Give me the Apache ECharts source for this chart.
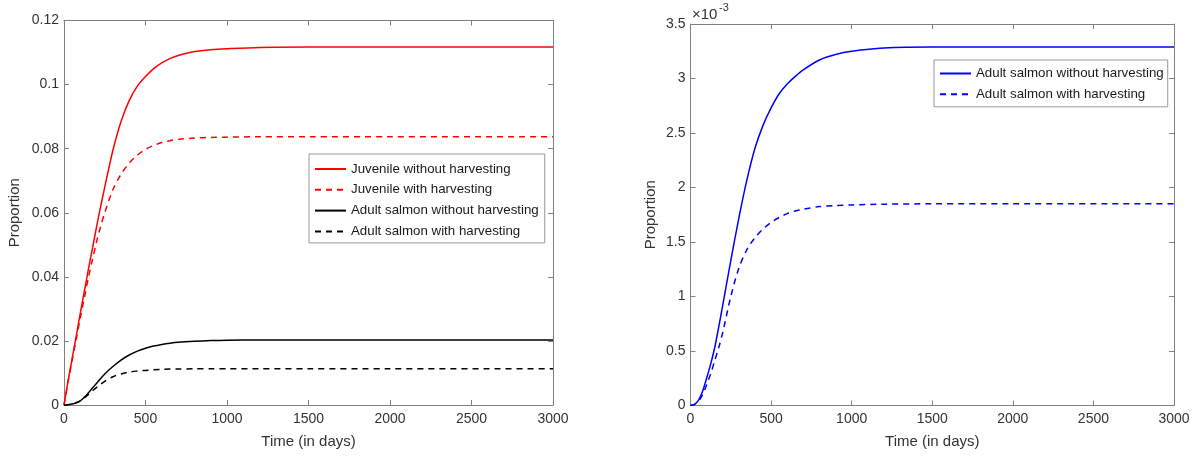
<!DOCTYPE html>
<html>
<head>
<meta charset="utf-8">
<title>Salmon proportions</title>
<script src="https://cdn.jsdelivr.net/npm/echarts@6/dist/echarts.min.js"></script>
<style>
    html, body { margin: 0; padding: 0; background: #fff; }
    #chart { width: 1197px; height: 457px; }
</style>
</head>
<body>
<div id="chart"></div>
<script>
// left panel (proportion)
var leftDays = [0, 25, 50, 75, 100, 125, 150, 175, 200, 225, 250, 300, 350, 400, 450, 500, 550, 600, 650, 700, 800, 900, 1000, 1200, 1500, 2000, 3000];
var juvNoHarvest = [0, 0.0075, 0.0145, 0.0215, 0.0287, 0.0355, 0.0425, 0.0490, 0.0557, 0.0620, 0.0680, 0.0795, 0.0885, 0.0950, 0.0995, 0.1025, 0.1050, 0.1068, 0.1081, 0.1091, 0.1103, 0.1109, 0.1112, 0.1116, 0.1117, 0.1117, 0.1117];
var juvHarvest = [0, 0.0072, 0.0140, 0.0205, 0.0272, 0.0335, 0.0398, 0.0455, 0.0510, 0.0558, 0.0600, 0.0672, 0.0720, 0.0755, 0.0780, 0.0798, 0.0810, 0.0819, 0.0825, 0.0829, 0.0833, 0.0835, 0.0836, 0.0837, 0.0837, 0.0837, 0.0837];
var adultNoHarvest = [0, 0.0001, 0.0003, 0.0007, 0.0013, 0.0024, 0.0038, 0.0053, 0.0068, 0.0083, 0.0097, 0.0120, 0.0140, 0.0156, 0.0168, 0.0177, 0.0184, 0.0189, 0.0193, 0.0196, 0.0199, 0.0201, 0.0202, 0.0203, 0.0203, 0.0203, 0.0203];
var adultHarvest = [0, 0.0001, 0.0003, 0.0007, 0.0013, 0.0022, 0.0033, 0.0044, 0.0055, 0.0065, 0.0074, 0.0088, 0.0097, 0.0103, 0.0106, 0.0108, 0.0110, 0.0111, 0.0112, 0.0112, 0.0113, 0.0113, 0.0113, 0.0113, 0.0113, 0.0113, 0.0113];

// right panel (values in units of 1e-3)
var rightDays = [0, 25, 50, 75, 100, 125, 150, 175, 200, 250, 300, 350, 400, 450, 500, 550, 600, 650, 700, 800, 900, 1000, 1200, 1500, 2000, 3000];
var adultNoHarvestE3 = [0, 0.01, 0.05, 0.13, 0.25, 0.38, 0.53, 0.72, 0.92, 1.33, 1.72, 2.07, 2.36, 2.57, 2.73, 2.86, 2.95, 3.02, 3.08, 3.17, 3.22, 3.25, 3.28, 3.29, 3.29, 3.29];
var adultHarvestE3 = [0, 0.01, 0.04, 0.10, 0.19, 0.29, 0.41, 0.53, 0.67, 1.00, 1.26, 1.43, 1.54, 1.62, 1.68, 1.725, 1.76, 1.785, 1.80, 1.825, 1.835, 1.84, 1.847, 1.85, 1.85, 1.85];

var axisColor = '#808080';
var textColor = '#333333';
var fontName = 'Liberation Sans, Arial, sans-serif';

function pairs(xs, ys) {
    return xs.map(function (x, i) { return [x, ys[i]]; });
}

function xAxisFor(gridIndex, bottom) {
    return {
        type: 'value',
        gridIndex: gridIndex,
        position: bottom ? 'bottom' : 'top',
        min: 0,
        max: 3000,
        interval: 500,
        name: bottom ? 'Time (in days)' : '',
        nameLocation: 'middle',
        nameGap: 29,
        nameTextStyle: { color: textColor, fontSize: 15, fontFamily: fontName },
        axisLine: { show: true, onZero: false, lineStyle: { color: axisColor, width: 1 } },
        axisTick: { show: true, inside: true, length: 5, lineStyle: { color: axisColor } },
        axisLabel: {
            show: bottom, margin: 7, color: textColor, fontSize: 14, fontFamily: fontName,
            formatter: function (v) { return String(v); }
        },
        splitLine: { show: false }
    };
}

function yAxisFor(gridIndex, left, max, interval, gap) {
    return {
        type: 'value',
        gridIndex: gridIndex,
        position: left ? 'left' : 'right',
        min: 0,
        max: max,
        interval: interval,
        name: left ? 'Proportion' : '',
        nameLocation: 'middle',
        nameGap: gap,
        nameTextStyle: { color: textColor, fontSize: 15, fontFamily: fontName },
        axisLine: { show: true, onZero: false, lineStyle: { color: axisColor, width: 1 } },
        axisTick: { show: true, inside: true, length: 5, lineStyle: { color: axisColor } },
        axisLabel: {
            show: left, margin: 5, color: textColor, fontSize: 14, fontFamily: fontName,
            formatter: function (v) { return String(+v.toFixed(4)); }
        },
        splitLine: { show: false }
    };
}

function lineSeries(name, data, color, dashed, xi, yi) {
    return {
        name: name,
        type: 'line',
        xAxisIndex: xi,
        yAxisIndex: yi,
        data: data,
        smooth: 0.3,
        symbol: 'none',
        lineStyle: { color: color, width: 1.5, type: dashed ? [6, 5] : 'solid' },
        itemStyle: { color: color },
        silent: true,
        animation: false
    };
}

var legendBase = {
    orient: 'vertical',
    itemWidth: 31,
    itemHeight: 14,
    itemGap: 7.8,
    borderColor: '#999999',
    borderWidth: 1,
    backgroundColor: '#ffffff',
    itemStyle: { opacity: 0 },
    textStyle: { color: '#1a1a1a', fontSize: 13.3, fontFamily: fontName }
};

var option = {
    backgroundColor: '#ffffff',
    animation: false,
    grid: [
        { left: 64, top: 20.5, width: 489, bottom: 52 },
        { left: 690.5, top: 24, width: 483.5, bottom: 51.5 }
    ],
    xAxis: [
        xAxisFor(0, true),
        xAxisFor(0, false),
        xAxisFor(1, true),
        xAxisFor(1, false)
    ],
    yAxis: [
        yAxisFor(0, true, 0.12, 0.02, 42),
        yAxisFor(0, false, 0.12, 0.02, 0),
        yAxisFor(1, true, 3.5, 0.5, 32),
        yAxisFor(1, false, 3.5, 0.5, 0)
    ],
    legend: [
        Object.assign({}, legendBase, {
            left: 309,
            top: 154,
            padding: [8.5, 6, 5, 5],
            data: ['Juvenile without harvesting', 'Juvenile with harvesting',
                   'Adult salmon without harvesting', 'Adult salmon with harvesting']
        }),
        Object.assign({}, legendBase, {
            left: 934,
            top: 60,
            padding: [7, 4, 6, 5],
            data: ['Adult salmon without harvesting (right)', 'Adult salmon with harvesting (right)'],
            formatter: function (name) { return name.replace(' (right)', ''); }
        })
    ],
    graphic: [
        {
            type: 'text',
            left: 692,
            top: 7,
            style: { text: '\u00d710', fill: textColor, font: '15px ' + fontName }
        },
        {
            type: 'text',
            left: 719,
            top: 2,
            style: { text: '-3', fill: textColor, font: '11px ' + fontName }
        }
    ],
    series: [
        lineSeries('Juvenile without harvesting', pairs(leftDays, juvNoHarvest), '#ff0000', false, 0, 0),
        lineSeries('Juvenile with harvesting', pairs(leftDays, juvHarvest), '#ff0000', true, 0, 0),
        lineSeries('Adult salmon without harvesting', pairs(leftDays, adultNoHarvest), '#000000', false, 0, 0),
        lineSeries('Adult salmon with harvesting', pairs(leftDays, adultHarvest), '#000000', true, 0, 0),
        lineSeries('Adult salmon without harvesting (right)', pairs(rightDays, adultNoHarvestE3), '#0000ff', false, 2, 2),
        lineSeries('Adult salmon with harvesting (right)', pairs(rightDays, adultHarvestE3), '#0000ff', true, 2, 2)
    ]
};

var myChart = echarts.init(document.getElementById('chart'));
myChart.setOption(option);
</script>
</body>
</html>
